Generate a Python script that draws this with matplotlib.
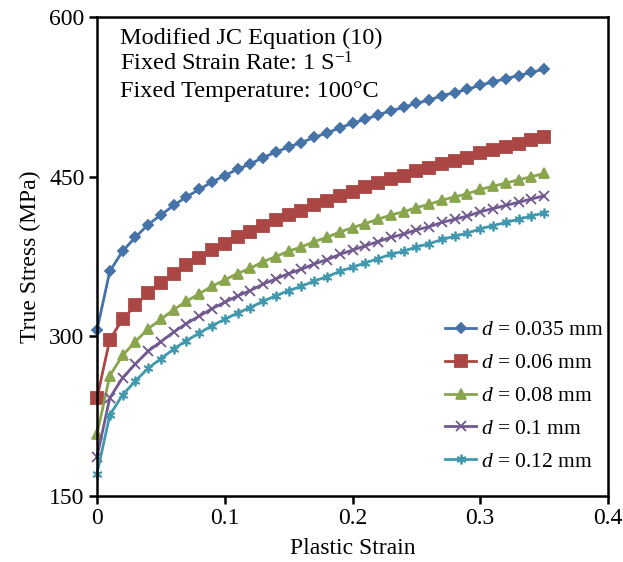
import matplotlib
matplotlib.use('Agg')
import matplotlib.pyplot as plt
import numpy as np

plt.rcParams['font.family'] = ['Liberation Serif', 'DejaVu Serif']
plt.rcParams['mathtext.fontset'] = 'custom'
plt.rcParams['mathtext.rm'] = 'Liberation Serif'
plt.rcParams['mathtext.it'] = 'Liberation Serif:italic'

# plastic strain, 0 to 0.35 step 0.01
strain = [i / 100 for i in range(36)]

s_0035 = [306, 361, 380, 393, 405, 414, 423, 431, 438, 445, 451, 457, 462, 468, 473, 478, 482, 487,
          491, 496, 500, 504, 508, 512, 515, 519, 522, 526, 529, 532, 536, 539, 542, 545, 548, 551]
s_006 = [242, 297, 316, 329, 341, 350, 359, 367, 374, 381, 387, 393, 398, 404, 409, 414, 418, 423,
         427, 432, 436, 440, 444, 448, 451, 455, 458, 462, 465, 468, 472, 475, 478, 481, 484, 487]
s_008 = [208, 263, 282, 295, 307, 316, 325, 333, 340, 347, 353, 359, 364, 370, 375, 380, 384, 389,
         393, 398, 402, 406, 410, 414, 417, 421, 424, 428, 431, 434, 438, 441, 444, 447, 450, 453]
s_01 = [187, 242, 261, 274, 286, 295, 304, 312, 319, 326, 332, 338, 343, 349, 354, 359, 363, 368,
        372, 377, 381, 385, 389, 393, 396, 400, 403, 407, 410, 413, 417, 420, 423, 426, 429, 432]
s_012 = [171, 226, 245, 258, 270, 279, 288, 296, 303, 310, 316, 322, 327, 333, 338, 343, 347, 352,
         356, 361, 365, 369, 373, 377, 380, 384, 387, 391, 394, 397, 401, 404, 407, 410, 413, 416]

labels = ['0.035', '0.06', '0.08', '0.1', '0.12']
series = [s_0035, s_006, s_008, s_01, s_012]
colors = ['#4572A7', '#AA4643', '#89A54E', '#71588F', '#4198AF']
markers = ['D', 's', '^', 'x', (6, 2, 0)]
msizes = [5.5, 8, 7.5, 7, 7]

W, H = 623, 562
fig = plt.figure(figsize=(W / 100, H / 100), dpi=100)
ax = fig.add_axes([97 / W, 1 - 496 / H, (608 - 97) / W, (496 - 17) / H])

for ys, lab, c, m, ms in zip(series, labels, colors, markers, msizes):
	ax.plot(strain, ys, color=c, lw=2, marker=m, ms=ms, mew=1.3, mec=c, mfc=c,
	        label=r'$d$ = ' + lab + ' mm', clip_on=False)

ax.set_xlim(0, 0.4)
ax.set_ylim(150, 600)
ax.set_xticks([0, 0.1, 0.2, 0.3, 0.4])
ax.set_xticklabels(['0', '0.1', '0.2', '0.3', '0.4'])
ax.set_yticks([150, 300, 450, 600])
for sp in ax.spines.values():
	sp.set_linewidth(1.8)
ax.tick_params(direction='out', length=6, width=1.8, labelsize=17, pad=3)
ax.set_xlabel('Plastic Strain', fontsize=17, labelpad=6)
ax.set_ylabel('True Stress (MPa)', fontsize=17, labelpad=6)

ax.text(120 / W, 1 - 38 / H, 'Modified JC Equation (10)', transform=fig.transFigure, fontsize=17.5, va='center')
ax.text(120 / W, 1 - 64 / H, r'Fixed Strain Rate: 1 S$^{\mathregular{-1}}$', transform=fig.transFigure, fontsize=17.5, va='center')
ax.text(120 / W, 1 - 91 / H, 'Fixed Temperature: 100°C', transform=fig.transFigure, fontsize=17.5, va='center')

ax.legend(loc='upper left', bbox_to_anchor=(445 / W, 1 - 320 / H), bbox_transform=fig.transFigure,
          frameon=False, fontsize=15.5, handlelength=1.45, handletextpad=0.2, labelspacing=0.6,
          borderaxespad=0, borderpad=0)

plt.savefig('out.png', dpi=100)
plt.close()
